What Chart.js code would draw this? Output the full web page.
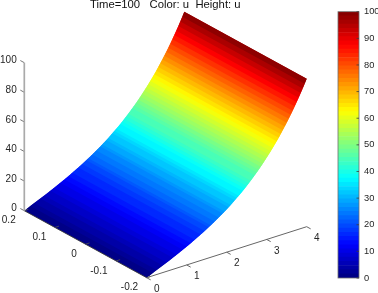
<!DOCTYPE html>
<html lang="en">
<head>
  <meta charset="UTF-8" />
  <title>Time=100 Color: u Height: u</title>
  <style>
    body { margin: 0; background: #fff; }
    .wrap { position: relative; width: 378px; height: 293px; overflow: hidden; }
    canvas { position: absolute; left: 0; top: 0; filter: blur(0.45px); }
  </style>
  <script src="https://cdn.jsdelivr.net/npm/chart.js"></script>
</head>
<body>
  <div class="wrap">
    <canvas id="surface" width="378" height="293"></canvas>
    <canvas id="colorbar" width="378" height="293"></canvas>
  </div>

  <script>
    // values
    const xValues = [0, 0.05, 0.1, 0.15, 0.2, 0.25, 0.3, 0.35, 0.4, 0.45,
      0.5, 0.55, 0.6, 0.65, 0.7, 0.75, 0.8, 0.85, 0.9, 0.95,
      1, 1.05, 1.1, 1.15, 1.2, 1.25, 1.3, 1.35, 1.4, 1.45,
      1.5, 1.55, 1.6, 1.65, 1.7, 1.75, 1.8, 1.85, 1.9, 1.95,
      2, 2.05, 2.1, 2.15, 2.2, 2.25, 2.3, 2.35, 2.4, 2.45,
      2.5, 2.55, 2.6, 2.65, 2.7, 2.75, 2.8, 2.85, 2.9, 2.95,
      3, 3.05, 3.1, 3.15, 3.2, 3.25, 3.3, 3.35, 3.4, 3.45,
      3.5, 3.55, 3.6, 3.65, 3.7, 3.75, 3.8, 3.85, 3.9, 3.95, 4];
    const uValues = [0, 0.6, 1.2, 1.8, 2.4, 3.0, 3.6, 4.2, 4.8, 5.4,
      6.0, 6.6, 7.2, 7.8, 8.5, 9.1, 9.8, 10.4, 11.1, 11.7,
      12.4, 13.1, 13.8, 14.5, 15.3, 16.0, 16.8, 17.5, 18.3, 19.1,
      19.9, 20.7, 21.6, 22.4, 23.3, 24.2, 25.1, 26.1, 27.0, 28.0,
      29.0, 30.0, 31.1, 32.2, 33.3, 34.4, 35.5, 36.7, 37.9, 39.2,
      40.5, 41.8, 43.1, 44.5, 45.9, 47.4, 48.9, 50.4, 52.0, 53.6,
      55.3, 57.0, 58.7, 60.5, 62.4, 64.2, 66.2, 68.2, 70.3, 72.4,
      74.6, 76.8, 79.1, 81.4, 83.9, 86.4, 88.9, 91.6, 94.3, 97.1, 100];
    const yEdges = [0.2, -0.2];
    const xTicks = [0, 1, 2, 3, 4];
    const yTicks = [0.2, 0.1, 0, -0.1, -0.2];
    const zTicks = [0, 20, 40, 60, 80, 100];
    const titleText = 'Time=100   Color: u  Height: u';

    const tickFont = '10px "Liberation Sans", Arial, sans-serif';
    const textColor = '#262626';

    // view of the 3D box, gives positions on the flat chart scales
    function project(x, y, z) {
      return {
        x: 146.7 + 40 * x - 306 * (y + 0.2),
        y: 277.7 - 12.75 * x - 167.5 * (y + 0.2) - 1.48 * z
      };
    }

    // jet colormap
    function jetColor(t) {
      const ch = c => Math.round(255 * Math.max(0, Math.min(1, 1.5 - Math.abs(4 * t - c))));
      return `rgb(${ch(3)},${ch(2)},${ch(1)})`;
    }
    function jetLevel(i) {
      return jetColor((i + 0.5) / 64);
    }
    // narrow strips fall into the 64 colormap bands, wide ones would skip bands
    function stripColor(u0, u1) {
      const mean = (u0 + u1) / 2;
      if (u1 - u0 >= 100 / 64) return jetColor(mean / 100);
      return jetLevel(Math.max(0, Math.min(63, Math.floor(mean / 100 * 64))));
    }

    const datasets = [];

    // surface strips, each one runs on under the next strip so no seams show
    for (let i = 0; i < xValues.length - 1; i++) {
      const next = Math.min(i + 2, xValues.length - 1);
      datasets.push({
        surfaceColor: stripColor(uValues[i], uValues[i + 1]),
        showLine: false,
        pointRadius: 0,
        data: [
          project(xValues[i], yEdges[0], uValues[i]),
          project(xValues[i], yEdges[1], uValues[i]),
          project(xValues[next], yEdges[1], uValues[next]),
          project(xValues[next], yEdges[0], uValues[next])
        ]
      });
    }

    function axisLine(points, color, width) {
      datasets.push({
        showLine: true, pointRadius: 0, borderColor: color, borderWidth: width, data: points
      });
    }

    // axes
    axisLine([project(0, 0.2, 0), project(0, 0.2, 100)], '#aaaaaa', 1.7);
    axisLine([project(0, 0.2, 0), project(0, -0.2, 0)], '#3a3a3a', 0.9);
    axisLine([project(0, -0.2, 0), project(4, -0.2, 0)], '#666666', 1);
    zTicks.forEach(z => axisLine([project(0, 0.2, z), project(0, 0.213, z)], '#666666', 0.9));
    yTicks.forEach(y => axisLine([project(0, y, 0), project(0.1, y, 0)], '#555555', 0.8));
    xTicks.forEach(x => axisLine([project(x, -0.2, 0), project(x, -0.213, 0)], '#555555', 0.9));

    const surfacePlugin = {
      id: 'surfacePlugin',
      beforeDatasetsDraw(chart) {
        const ctx = chart.ctx;
        chart.data.datasets.forEach((ds, i) => {
          if (!ds.surfaceColor) return;
          const pts = chart.getDatasetMeta(i).data;
          ctx.beginPath();
          pts.forEach((p, k) => k ? ctx.lineTo(p.x, p.y) : ctx.moveTo(p.x, p.y));
          ctx.closePath();
          ctx.fillStyle = ds.surfaceColor;
          ctx.fill();
        });
      },
      afterDraw(chart) {
        const ctx = chart.ctx;
        const sx = chart.scales.x, sy = chart.scales.y;
        const label = (text, p, dx, dy, align) => {
          ctx.textAlign = align;
          ctx.fillText(text, sx.getPixelForValue(p.x) + dx, sy.getPixelForValue(p.y) + dy);
        };
        ctx.save();
        ctx.font = tickFont;
        ctx.fillStyle = textColor;
        ctx.textBaseline = 'middle';
        zTicks.forEach(z => label(String(z), project(0, 0.2, z), -7.6, -2, 'right'));
        yTicks.forEach(y => label(String(y), project(0, y, 0), -8.6, 10, 'right'));
        xTicks.forEach(x => label(String(x), project(x, -0.2, 0), 10, 11.5, 'center'));
        ctx.font = '11.3px "Liberation Sans", Arial, sans-serif';
        ctx.fillStyle = '#111111';
        ctx.textAlign = 'left';
        ctx.textBaseline = 'alphabetic';
        ctx.fillText(titleText, 90, 8);
        ctx.restore();
      }
    };

    new Chart(document.getElementById('surface'), {
      type: 'scatter',
      data: { datasets: datasets },
      plugins: [surfacePlugin],
      options: {
        responsive: false,
        animation: false,
        events: [],
        layout: { padding: 0 },
        plugins: { legend: { display: false }, tooltip: { enabled: false } },
        scales: {
          x: { type: 'linear', display: false, min: 0, max: 378 },
          y: { type: 'linear', display: false, min: 0, max: 293, reverse: true }
        }
      }
    });

    // COLORBAR
    const barSets = [];
    for (let i = 0; i < 64; i++) {
      barSets.push({
        data: [100 / 64], backgroundColor: jetLevel(i), borderWidth: 0,
        barPercentage: 1, categoryPercentage: 1
      });
    }

    const framePlugin = {
      id: 'framePlugin',
      afterDatasetsDraw(chart) {
        const { ctx, chartArea: a, scales } = chart;
        ctx.save();
        ctx.strokeStyle = '#6f6f6f';
        ctx.lineWidth = 0.8;
        ctx.strokeRect(a.left, a.top, a.right - a.left, a.bottom - a.top);
        ctx.strokeStyle = '#3c3c3c';
        scales.y.ticks.forEach(t => {
          const py = scales.y.getPixelForValue(t.value);
          ctx.beginPath();
          ctx.moveTo(a.right, py);
          ctx.lineTo(a.right - 2.5, py);
          ctx.stroke();
        });
        ctx.restore();
      }
    };

    new Chart(document.getElementById('colorbar'), {
      type: 'bar',
      data: { labels: ['u'], datasets: barSets },
      plugins: [framePlugin],
      options: {
        responsive: false,
        animation: false,
        events: [],
        layout: { padding: { left: 338, top: 11.7, bottom: 15, right: 0 } },
        plugins: { legend: { display: false }, tooltip: { enabled: false } },
        scales: {
          x: { display: false, stacked: true },
          y: {
            position: 'right',
            stacked: true,
            min: 0,
            max: 100,
            afterFit(scale) { scale.width = 19; },
            grid: { display: false, drawTicks: false },
            border: { display: false },
            ticks: {
              stepSize: 10,
              padding: 5,
              color: textColor,
              font: { family: '"Liberation Sans", Arial, sans-serif', size: 9.3 }
            }
          }
        }
      }
    });
  </script>
</body>
</html>
